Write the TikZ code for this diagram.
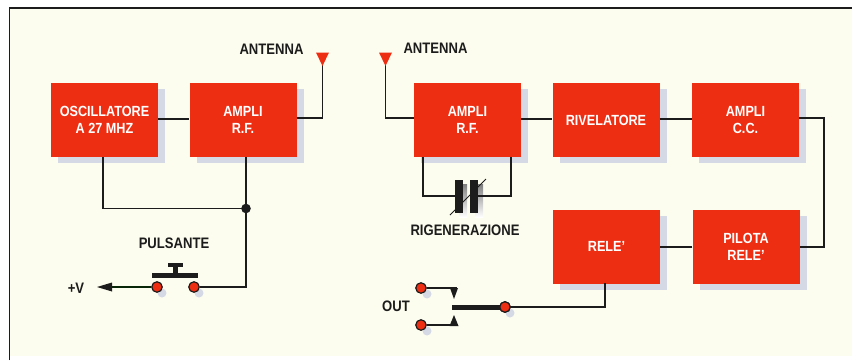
\documentclass[tikz,border=0pt]{standalone}
\usepackage{fontspec}
\setmainfont[FakeStretch=0.86]{Liberation Sans}
\usetikzlibrary{calc}
\definecolor{blockred}{HTML}{EE2E12}
\definecolor{cream}{HTML}{FDFDEF}
\definecolor{shade}{HTML}{D5D9E6}
\definecolor{ink}{HTML}{1C1C1C}
\tikzset{
  x=1pt,y=-1pt,
  block/.style={fill=blockred,minimum width=107pt,minimum height=74pt,inner sep=0pt,align=center,text=white,font=\fontsize{14.7}{17}\bfseries,anchor=center},
  blockshade/.style={fill=shade,minimum width=107pt,minimum height=74pt,inner sep=0pt},
  wire/.style={draw=ink,line width=1.7pt},
  lab/.style={text=ink,font=\fontsize{15.2}{17}\bfseries,inner sep=0pt},
  term/.style={circle,draw=ink,fill=blockred,line width=1.2pt,minimum size=10.5pt,inner sep=0pt},
  termshade/.style={circle,fill=shade,minimum size=9pt,inner sep=0pt},
  ant/.style={fill=blockred,draw=none},
  heavy/.style={fill=ink,draw=none}
}
\begin{document}
\begin{tikzpicture}
\useasboundingbox (0,0) rectangle (852,360);
\fill[white] (0,0) rectangle (852,360);
\fill[cream] (9,8) rectangle (852,356);
\draw[ink,line width=1.8pt] (9.5,360) -- (9.5,8) -- (852,8);
% shadows
\foreach \x/\y in {104.5/120,243/120,467.5/120,606/120,745.5/120,606.5/246.5,746/246.5}
  \node[blockshade] at (\x+7,\y+6) {};
\foreach \x/\y in {157/287,194/287,422/288,422/325,505/307}
  \node[termshade] at (\x+5,\y+6) {};
\fill[shade] (459,184) rectangle (467,217);
\fill[shade] (475,184) rectangle (483,217);
% blocks
\node[block] (osc) at (104.5,120) {OSCILLATORE\\A 27 MHZ};
\node[block] (ampa) at (243,120) {AMPLI\\R.F.};
\node[block] (ampb) at (467.5,120) {AMPLI\\R.F.};
\node[block] (riv) at (606,120) {RIVELATORE};
\node[block] (ampc) at (745.5,120) {AMPLI\\C.C.};
\node[block] (rele) at (606.5,246.5) {RELE'};
\node[block] (pil) at (746,246.5) {PILOTA\\RELE'};
% antennas
\coordinate (antLtip) at (322.5,62);
\coordinate (antRtip) at (385.5,62);
\coordinate (junc) at (246,208.5);
\node[term] (tl) at (157,287) {};
\node[term] (tr) at (194,287) {};
\coordinate (vend) at (112,287);
\node[term] (o1) at (421,288) {};
\node[term] (o2) at (421,325) {};
\node[term] (oc) at (505,307) {};
\coordinate (capl) at (461.5,196);
\coordinate (capr) at (478,196);
% wires
\draw[wire] (osc.east |- 0,119) -- (ampa.west |- 0,119);
\draw[wire] (ampa.east |- 0,118) -- (322.5,118) -- (antLtip);
\draw[wire] (antRtip) -- (385.5,118) -- (ampb.west |- 0,118);
\draw[wire] (ampb.east |- 0,119) -- (riv.west |- 0,119);
\draw[wire] (riv.east |- 0,119) -- (ampc.west |- 0,119);
\draw[wire] (ampc.east |- 0,118) -- (824,118) -- (824,247) -- (pil.east |- 0,247);
\draw[wire] (pil.west |- 0,247) -- (rele.east |- 0,247);
\draw[wire] (103,157) -- (103,208.5) -- (junc);
\draw[wire] (junc) -- (246,157);
\draw[wire] (junc) -- (246,287) -- (tr);
\draw[wire,draw=ink!70!green!40!black] (tl) -- (vend);
\fill[ink] (97,287) -- (112,282.5) -- (112,291.5) -- cycle;
\fill[ink] (junc) circle (4.8);
\draw[wire] (423,157) -- (423,196) -- (capl);
\draw[wire] (capr) -- (511,196) -- (511,157);
\draw[wire] (oc) -- (605,307) -- (605,283);
% push button
\fill[heavy] (152,272.5) rectangle (198,278);
\fill[heavy] (173,266) rectangle (178,273);
\fill[heavy] (168,263) rectangle (183,266.5);
% capacitor
\fill[heavy] (455,180) rectangle (463,213);
\fill[heavy] (470,180) rectangle (478,213);
\draw[ink,line width=.8pt] (450,215) -- (486,179);
% switch
\draw[wire] (o1) -- (457,288);
\draw[wire] (o2) -- (458,325);
\fill[heavy] (450,288) -- (458,288) -- (454,299) -- cycle;
\fill[heavy] (449.5,326) -- (458.5,326) -- (454,315) -- cycle;
\fill[heavy] (452,304.5) rectangle (500,309.5);
\node[term] at (oc) {};
% antenna tips
\fill[ant] (316,52.5) -- (329,52.5) -- (322.5,66) -- cycle;
\fill[ant] (379,52.5) -- (392,52.5) -- (385.5,66) -- cycle;
% labels
\node[lab] (a1) at (271.5,49) {ANTENNA};
\node[lab] (a2) at (435.5,48.5) {ANTENNA};
\node[lab] (pu) at (174,243.5) {PULSANTE};
\node[lab] (plusv) at (76,288) {+V};
\node[lab] (rig) at (465,230.5) {RIGENERAZIONE};
\node[lab] (out) at (396,306) {OUT};
\end{tikzpicture}
\end{document}
